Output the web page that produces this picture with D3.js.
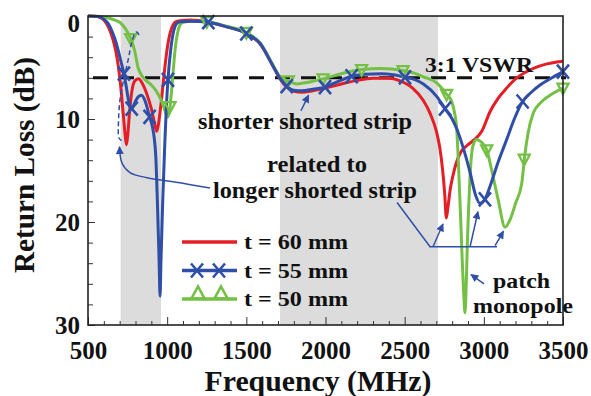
<!DOCTYPE html>
<html><head><meta charset="utf-8">
<script src="https://cdn.jsdelivr.net/npm/d3@7"></script>
<style>
html,body{margin:0;padding:0;background:#fff;}
svg text{font-family:"Liberation Serif","Times New Roman",serif;font-weight:bold;fill:#111;}
</style></head><body>
<svg id="chart" width="591" height="396"></svg>
<script>
// ---------- data ----------
const xTicks = [500,1000,1500,2000,2500,3000,3500];
const yTicks = [0,10,20,30];
const bands = [[706,961],[1713,2710]];
const vswrLevel = 6;
const seriesNames = ["t = 60 mm","t = 55 mm","t = 50 mm"];

const red60 = [[500,0],[560,0.05],[600,0.4],[630,1.1],[660,2.4],[685,4.2],[705,6.6],[722,9.4],[735,11.6],[743,12.5],[752,11.4],[763,9.2],[777,7.3],[795,6.3],[818,6.1],[845,6.6],[872,7.6],[900,9.0],[920,10.4],[934,11.2],[946,10.4],[956,9.2],[966,7.9],[976,6.3],[986,4.9],[998,3.4],[1012,2.1],[1030,1.1],[1050,0.6],[1080,0.45],[1150,0.4],[1260,0.6],[1376,1.05],[1500,1.7],[1586,2.7],[1670,4.9],[1713,6.1],[1755,6.9],[1800,7.3],[1850,7.4],[1920,7.25],[2000,7.0],[2100,6.6],[2200,6.25],[2300,6.05],[2400,6.05],[2470,6.3],[2550,7.0],[2618,8.2],[2662,9.5],[2702,11.3],[2722,12.8],[2740,15],[2753,17.3],[2763,19.6],[2773,18.6],[2788,16.8],[2805,15.5],[2825,14.3],[2855,13.2],[2892,12.6],[2940,12.0],[2987,11.2],[3039,9.3],[3090,8.0],[3144,7.0],[3200,6.1],[3270,5.4],[3376,4.75],[3500,4.4]];

const blue55 = [[500,0],[560,0.05],[600,0.3],[626,0.7],[655,1.6],[679,2.65],[698,3.8],[711,4.6],[727,5.6],[742,6.9],[755,8.1],[766,8.8],[776,9.0],[790,8.6],[810,8.0],[837,7.7],[862,8.3],[889,9.8],[906,10.7],[918,11.8],[928,13.6],[938,17.9],[949,23.7],[955,27.2],[961,23.7],[972,17.9],[986,12],[996,8.5],[1005,6.2],[1020,3.6],[1035,1.9],[1050,1.0],[1065,0.65],[1085,0.55],[1150,0.5],[1260,0.6],[1376,1.05],[1500,1.7],[1586,2.65],[1670,4.9],[1713,6.05],[1755,6.8],[1800,7.2],[1850,7.25],[1920,7.1],[1997,6.9],[2080,6.35],[2165,5.85],[2250,5.65],[2350,5.6],[2430,5.7],[2502,5.95],[2560,6.15],[2618,6.6],[2702,7.8],[2755,9.0],[2800,10.0],[2830,11.0],[2870,12.8],[2910,15.0],[2950,17.5],[2975,18.2],[3007,17.8],[3040,16.5],[3090,14.2],[3144,12.0],[3195,9.9],[3245,8.3],[3300,7.4],[3355,6.7],[3430,6.0],[3500,5.4]];

const green50 = [[500,0],[580,0.05],[630,0.2],[670,0.4],[700,0.6],[735,1.2],[770,2.2],[795,3.4],[816,5.0],[840,5.8],[870,6.3],[900,6.7],[932,7.3],[960,8.1],[980,8.9],[993,9.5],[1003,9.8],[1011,9.5],[1018,8.8],[1028,7.2],[1040,5.0],[1052,3.0],[1065,1.7],[1080,0.9],[1100,0.6],[1160,0.5],[1250,0.55],[1376,1.0],[1500,1.6],[1586,2.6],[1670,4.8],[1713,5.9],[1765,6.3],[1820,6.6],[1900,6.4],[1985,6.1],[2100,5.6],[2228,5.2],[2350,5.1],[2490,5.3],[2560,5.55],[2618,5.9],[2702,6.5],[2765,7.6],[2797,8.3],[2815,9.4],[2829,11.0],[2840,14.5],[2852,19],[2863,23.5],[2873,27],[2881,28.8],[2889,26],[2896,22],[2903,19],[2912,15.8],[2923,13.4],[2938,12.3],[2955,12.0],[2980,12.2],[3000,12.5],[3018,13.0],[3050,15.0],[3090,17.8],[3134,20.5],[3165,19.8],[3200,18.2],[3239,16.3],[3258,13.6],[3280,11.3],[3313,9.4],[3360,8.4],[3418,7.7],[3500,7.0]];

const blue55Markers = [[727,5.6],[776,9.0],[889,9.8],[1005,6.2],[1260,0.6],[1500,1.7],[1755,6.8],[1997,6.9],[2165,5.85],[2502,5.95],[2755,9.0],[3007,17.8],[3245,8.3],[3500,5.4]];
const green50Markers = [[770,2.2],[1018,8.8],[1250,0.55],[1500,1.6],[1765,6.3],[1985,6.1],[2228,5.2],[2490,5.3],[2765,7.6],[3018,13.0],[3255,13.9],[3500,7.0]];

// annotation anchors (data units: MHz, dB)
const shorterArrow = [[1845,9.2],[1893,7.7]];
const longerCurve = [[1270,16.7],[1081,16.2],[873,15.7],[765,15.2],[715,14.3],[699,12.7]];
const longerBracket = [[822,1.85],[809,1.55],[797,1.65],[776,2.6],[753,4.3],[721,6.5],[702,8.15],[693,10.1],[696,11.85],[712,12.1]];
const stripBracket = [[2452,18.1],[2660,22.4],[3083,22.4]];
const stripArrows = [[[2679,22.4],[2742,20.2]],[[2913,22.4],[2963,19.0]],[[3071,22.3],[3124,20.9]]];
const patchArrow = [[3001,26.0],[2919,25.1]];

// ---------- drawing ----------
const colors = ["#e41e26","#2f4ea8","#74c044"];
const svg = d3.select("#chart");
const x = d3.scaleLinear().domain([500,3500]).range([88,563]);
const y = d3.scaleLinear().domain([0,30]).range([16,325]);
const [x0,x1] = x.range(), [y0,y1] = y.range();

const defs = svg.append("defs");
defs.append("marker").attr("id","ah").attr("viewBox","0 0 10 10")
  .attr("refX",9).attr("refY",5).attr("markerWidth",10).attr("markerHeight",8)
  .attr("markerUnits","userSpaceOnUse").attr("orient","auto")
  .append("path").attr("d","M0,0 L10,5 L0,10 z").attr("fill",colors[1]);

// bands
svg.append("g").selectAll("rect").data(bands).join("rect")
  .attr("x",d=>x(d[0])).attr("width",d=>x(d[1])-x(d[0]))
  .attr("y",y0).attr("height",y1-y0).attr("fill","#dcdcdc");

// axes ticks
const minorX = d3.range(500,3501,100).filter(v=>v%500!==0);
svg.append("g").attr("transform",`translate(0,${y1})`)
  .call(d3.axisBottom(x).tickValues(minorX).tickSize(-4).tickFormat(""))
  .call(g=>g.select(".domain").remove())
  .call(g=>g.selectAll("line").attr("stroke","#333"));
const xAxis = svg.append("g").attr("transform",`translate(0,${y1})`)
  .call(d3.axisBottom(x).tickValues(xTicks).tickSize(-8).tickPadding(16).tickFormat(d3.format("d")))
  .call(g=>g.select(".domain").remove());
xAxis.selectAll("line").attr("stroke","#333");
xAxis.selectAll("text").attr("font-size",25).attr("fill","#111")
  .attr("font-family","Liberation Serif, serif").attr("font-weight","bold");

const minorY = d3.range(0,31,2).filter(v=>v%10!==0);
svg.append("g").attr("transform",`translate(${x0},0)`)
  .call(d3.axisLeft(y).tickValues(minorY).tickSize(-5).tickFormat(""))
  .call(g=>g.select(".domain").remove())
  .call(g=>g.selectAll("line").attr("stroke","#333"));
const yAxis = svg.append("g").attr("transform",`translate(${x0},0)`)
  .call(d3.axisLeft(y).tickValues(yTicks).tickSize(-7).tickPadding(8))
  .call(g=>g.select(".domain").remove());
yAxis.selectAll("line").attr("stroke","#333");
yAxis.selectAll("text").attr("font-size",25).attr("fill","#111")
  .attr("font-family","Liberation Serif, serif").attr("font-weight","bold")
  .attr("dy","0.35em")
  .attr("y",d=>Math.max(0, 23 - y(d)));

// VSWR line
svg.append("line").attr("x1",x0).attr("x2",x1+3).attr("y1",y(vswrLevel)).attr("y2",y(vswrLevel))
  .attr("stroke","#111").attr("stroke-width",3).attr("stroke-dasharray","15,11").attr("stroke-dashoffset",-5);

// curves
const line = d3.line().x(d=>x(d[0])).y(d=>y(d[1])).curve(d3.curveMonotoneX);
const curves = [[red60,colors[0]],[green50,colors[2]],[blue55,colors[1]]];
svg.append("g").selectAll("path").data(curves).join("path")
  .attr("d",d=>line(d[0])).attr("fill","none").attr("stroke",d=>d[1])
  .attr("stroke-width",3).attr("stroke-linejoin","round");

// markers
const triDown = "M-5.5,-4.5 L5.5,-4.5 L0,6 Z";
const triUp = "M-6.5,5.5 L6.5,5.5 L0,-6.5 Z";
const xMark = "M-6,-7 L6,7 M-6,7 L6,-7";
svg.append("g").selectAll("path").data(green50Markers).join("path")
  .attr("transform",d=>`translate(${x(d[0])},${y(d[1])})`).attr("d",triDown)
  .attr("fill","none").attr("stroke",colors[2]).attr("stroke-width",2.3);
svg.append("g").selectAll("path").data(blue55Markers).join("path")
  .attr("transform",d=>`translate(${x(d[0])},${y(d[1])})`).attr("d",xMark)
  .attr("fill","none").attr("stroke",colors[1]).attr("stroke-width",2.6);

// frame
svg.append("rect").attr("x",x0).attr("y",y0).attr("width",x1-x0).attr("height",y1-y0)
  .attr("fill","none").attr("stroke","#222").attr("stroke-width",1.6);

// annotations
const ann = svg.append("g").attr("fill","none").attr("stroke",colors[1]).attr("stroke-width",1.5);
const aline = () => d3.line().x(d=>x(d[0])).y(d=>y(d[1]));
ann.append("path").attr("d",aline()(shorterArrow)).attr("marker-end","url(#ah)");
ann.append("path").attr("d",aline().curve(d3.curveCatmullRom)(longerCurve)).attr("marker-end","url(#ah)");
ann.append("path").attr("d",aline().curve(d3.curveCatmullRom)(longerBracket))
  .attr("stroke-dasharray","5,3");
ann.append("path").attr("d",aline()(stripBracket));
stripArrows.forEach(a=>ann.append("path").attr("d",aline()(a)).attr("marker-end","url(#ah)"));
ann.append("path").attr("d",aline()(patchArrow)).attr("marker-end","url(#ah)");

function txt(s,xx,yy,size,len,anchor){
  const t = svg.append("text").attr("x",xx).attr("y",yy).attr("font-size",size)
    .attr("text-anchor",anchor||"start").text(s);
  if(len) t.attr("textLength",len).attr("lengthAdjust","spacingAndGlyphs");
  return t;
}
txt("3:1 VSWR",425,72,22,108);
txt("shorter shorted strip",198,129,23,214);
txt("related to",267,172,23,100);
txt("longer shorted strip",213,198,23,204);
txt("patch",493,288,22,57);
txt("monopole",473,313,22,100);

// legend
const legY = [242,270.5,299];
const lg = svg.append("g");
seriesNames.forEach((name,i)=>{
  lg.append("line").attr("x1",182).attr("x2",237).attr("y1",legY[i]).attr("y2",legY[i])
    .attr("stroke",colors[i]).attr("stroke-width",3.5);
  txt(name,244,legY[i]+7,21,104);
});
[197,219].forEach(px=>lg.append("path").attr("d",xMark)
  .attr("transform",`translate(${px},${legY[1]})`).attr("fill","none")
  .attr("stroke",colors[1]).attr("stroke-width",2.6));
[198,221].forEach(px=>lg.append("path").attr("d",triUp)
  .attr("transform",`translate(${px},${legY[2]-6})`).attr("fill","none")
  .attr("stroke",colors[2]).attr("stroke-width",2.6));

// axis titles
txt("Frequency (MHz)",318,391,29,227,"middle");
svg.append("text").attr("transform","translate(34,165) rotate(-90)")
  .attr("text-anchor","middle").attr("font-size",30)
  .attr("textLength",216).attr("lengthAdjust","spacingAndGlyphs")
  .text("Return Loss (dB)");
</script>
</body></html>
